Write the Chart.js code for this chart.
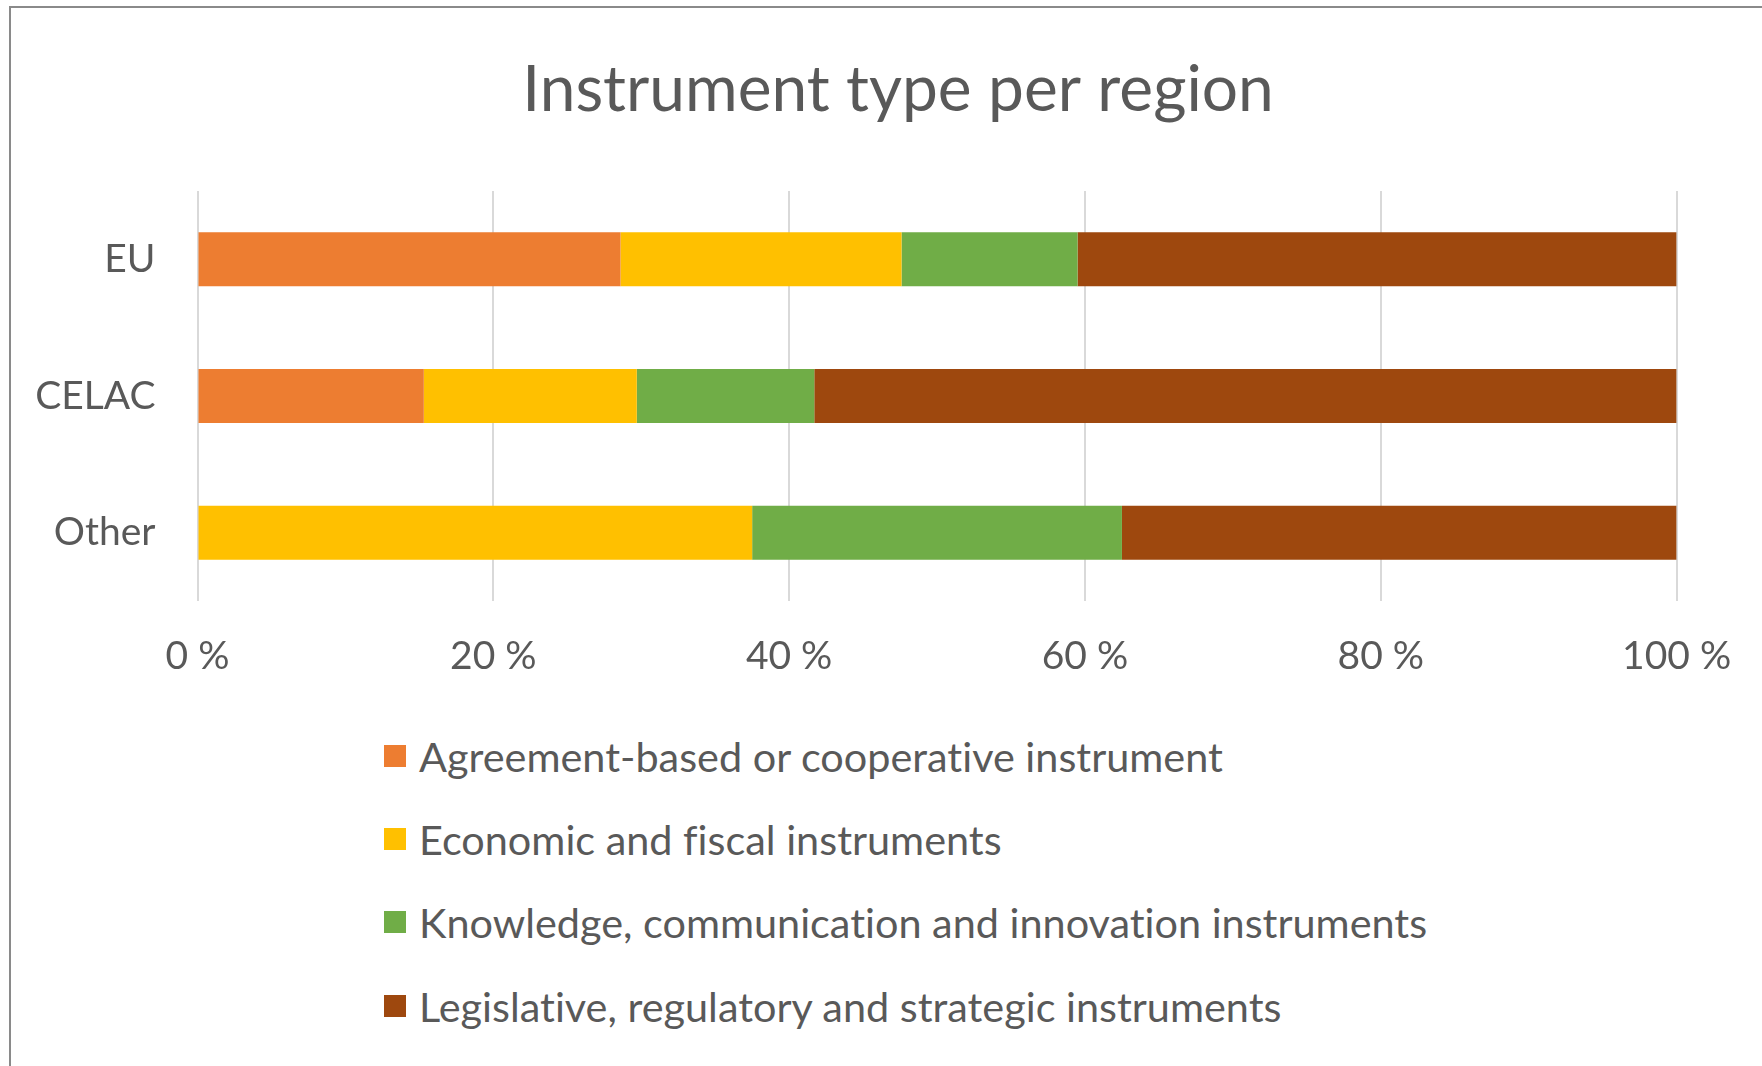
<!DOCTYPE html>
<html>
<head>
<meta charset="utf-8">
<script src="https://cdn.jsdelivr.net/npm/chart.js@4.4.1/dist/chart.umd.min.js"></script>
<style>
  html, body { margin: 0; padding: 0; background: #fff; }
  body { width: 1762px; height: 1066px; overflow: hidden; position: relative; font-family: Lato, 'Noto Sans', sans-serif; }
  .frame { position: absolute; left: 9px; top: 6px; width: 1800px; height: 1100px; border-left: 2px solid #8a8a8a; border-top: 2px solid #8a8a8a; }
  #chart { position: absolute; left: 10px; top: 8px; }
  #legend { position: absolute; left: 384px; top: 714px; }
  .leg-row { height: 83.3px; display: flex; align-items: center; color: #595959; font-size: 41.4px; white-space: nowrap; font-variant-ligatures: none; }
  .leg-box { width: 22px; height: 22px; margin-right: 13px; flex: none; }
</style>
</head>
<body>
<div class="frame"></div>
<canvas id="chart" width="1776" height="700"></canvas>
<div id="legend"></div>
<script>
const REGIONS = ['EU', 'CELAC', 'Other']
const SERIES_NAMES = [
  'Agreement-based or cooperative instrument',
  'Economic and fiscal instruments',
  'Knowledge, communication and innovation instruments',
  'Legislative, regulatory and strategic instruments',
]
const AGREEMENT   = [28.6, 15.3, 0]
const ECONOMIC    = [19.0, 14.4, 37.5]
const KNOWLEDGE   = [11.9, 12.0, 25.0]
const LEGISLATIVE = [40.5, 58.3, 37.5]
const X_TICKS = [0, 20, 40, 60, 80, 100]

const COLORS = ['#ed7d31', '#ffc000', '#70ad47', '#9e480e']
const TEXT = '#595959'
const FONT = "Lato, 'Noto Sans', sans-serif"

const seriesValues = [AGREEMENT, ECONOMIC, KNOWLEDGE, LEGISLATIVE]

const chart = new Chart(document.getElementById('chart'), {
  type: 'bar',
  data: {
    labels: REGIONS,
    datasets: seriesValues.map((vals, i) => ({
      label: SERIES_NAMES[i],
      data: vals,
      backgroundColor: COLORS[i],
      borderWidth: 0,
      categoryPercentage: 1,
      barPercentage: 0.395,
    })),
  },
  options: {
    indexAxis: 'y',
    responsive: false,
    animation: false,
    layout: { padding: 0 },
    plugins: {
      legend: { display: false },
      tooltip: { enabled: false },
      title: {
        display: true,
        text: 'Instrument type per region',
        color: TEXT,
        font: { family: FONT, size: 64, weight: 'normal' },
        padding: { top: 43.6, bottom: 62.6 },
      },
    },
    scales: {
      x: {
        stacked: true,
        min: 0,
        max: 100,
        afterBuildTicks: (scale) => { scale.ticks = X_TICKS.map(v => ({ value: v })) },
        afterFit: (scale) => { scale.height = 107 },
        grid: { color: '#d9d9d9', lineWidth: 2, drawTicks: false },
        border: { display: false },
        ticks: {
          color: TEXT,
          padding: 32,
          font: { family: FONT, size: 39 },
          callback: v => v + ' %',
        },
      },
      y: {
        stacked: true,
        afterFit: (scale) => { scale.width = 187.5 },
        grid: { display: false, drawTicks: false },
        border: { display: false },
        ticks: {
          color: TEXT,
          padding: 42,
          font: { family: FONT, size: 39 },
        },
      },
      // empty right-hand strip, keeps the plot narrower while the title stays centred on the frame
      yPad: {
        type: 'category',
        position: 'right',
        afterFit: (scale) => { scale.width = 109.4 },
        grid: { display: false, drawTicks: false },
        border: { display: false },
        ticks: { display: false },
      },
    },
  },
})

const legendEl = document.getElementById('legend')
legendEl.innerHTML = chart.data.datasets.map(ds => `
  <div class="leg-row"><span class="leg-box" style="background:${ds.backgroundColor}"></span><span>${ds.label}</span></div>
`).join('')
</script>
</body>
</html>
